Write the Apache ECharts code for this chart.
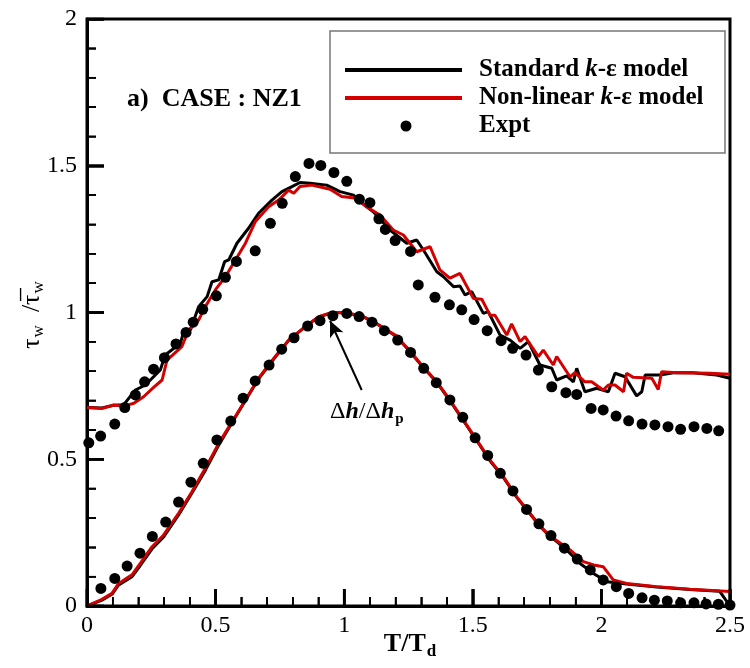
<!DOCTYPE html>
<html>
<head>
<meta charset="utf-8">
<script src="https://cdn.jsdelivr.net/npm/echarts@6/dist/echarts.min.js"></script>
<style>html,body{margin:0;padding:0;background:#fff}#c{width:750px;height:668px}</style>
</head>
<body>
<div id="c"></div>
<script>
// ---- data ----
var xMajorTicks = [0, 0.5, 1, 1.5, 2, 2.5];
var xMinorTicks = [0.1, 0.2, 0.3, 0.4, 0.6, 0.7, 0.8, 0.9, 1.1, 1.2, 1.3, 1.4, 1.6, 1.7, 1.8, 1.9, 2.1, 2.2, 2.3, 2.4];
var yMajorTicks = [0, 0.5, 1, 1.5, 2];
var yMinorTicks = [0.1, 0.2, 0.3, 0.4, 0.6, 0.7, 0.8, 0.9, 1.1, 1.2, 1.3, 1.4, 1.6, 1.7, 1.8, 1.9];

var stdUpper = [[0,0.676],[0.058,0.675],[0.104,0.684],[0.143,0.686],[0.188,0.736],[0.227,0.753],[0.285,0.804],[0.304,0.855],[0.363,0.895],[0.376,0.935],[0.402,0.94],[0.434,1.02],[0.467,1.054],[0.486,1.105],[0.512,1.111],[0.535,1.173],[0.551,1.179],[0.583,1.236],[0.628,1.287],[0.667,1.338],[0.719,1.383],[0.758,1.412],[0.797,1.429],[0.828,1.443],[0.867,1.44],[0.932,1.434],[0.984,1.412],[1.036,1.4],[1.061,1.378],[1.113,1.343],[1.178,1.281],[1.243,1.236],[1.282,1.247],[1.308,1.213],[1.36,1.139],[1.386,1.122],[1.425,1.088],[1.45,1.09],[1.47,1.06],[1.496,1.071],[1.541,0.997],[1.56,1.003],[1.606,0.923],[1.645,0.906],[1.684,0.878],[1.716,0.901],[1.761,0.821],[1.807,0.81],[1.826,0.77],[1.865,0.784],[1.891,0.764],[1.904,0.81],[1.936,0.73],[1.982,0.742],[2.027,0.73],[2.053,0.793],[2.092,0.781],[2.137,0.716],[2.157,0.73],[2.17,0.787],[2.228,0.787],[2.28,0.795],[2.357,0.795],[2.448,0.787],[2.5,0.776]];

var nonlinUpper = [[0,0.676],[0.058,0.673],[0.104,0.685],[0.143,0.681],[0.182,0.691],[0.22,0.713],[0.259,0.745],[0.292,0.77],[0.311,0.838],[0.369,0.884],[0.395,0.94],[0.434,0.974],[0.46,1.02],[0.499,1.077],[0.538,1.122],[0.577,1.179],[0.616,1.236],[0.654,1.309],[0.706,1.36],[0.745,1.383],[0.784,1.417],[0.804,1.406],[0.828,1.429],[0.874,1.434],[0.945,1.42],[0.99,1.395],[1.049,1.389],[1.087,1.36],[1.139,1.332],[1.191,1.281],[1.23,1.264],[1.282,1.207],[1.334,1.224],[1.372,1.145],[1.411,1.117],[1.45,1.133],[1.502,1.048],[1.535,1.045],[1.567,0.991],[1.586,0.991],[1.632,0.923],[1.651,0.961],[1.684,0.901],[1.703,0.918],[1.755,0.85],[1.774,0.872],[1.813,0.821],[1.826,0.85],[1.878,0.781],[1.897,0.795],[1.936,0.764],[1.962,0.764],[2.007,0.736],[2.027,0.753],[2.053,0.753],[2.086,0.73],[2.098,0.793],[2.124,0.779],[2.196,0.776],[2.221,0.738],[2.234,0.798],[2.293,0.795],[2.422,0.793],[2.5,0.79]];

var stdLower = [[0,0],[0.058,0.02],[0.097,0.04],[0.123,0.072],[0.175,0.1],[0.207,0.138],[0.253,0.195],[0.298,0.235],[0.356,0.31],[0.408,0.385],[0.46,0.462],[0.512,0.548],[0.564,0.625],[0.616,0.7],[0.667,0.774],[0.732,0.848],[0.784,0.905],[0.849,0.952],[0.901,0.985],[0.953,0.999],[0.984,1.0],[1.061,0.991],[1.113,0.969],[1.165,0.94],[1.2,0.92],[1.25,0.873],[1.3,0.82],[1.36,0.762],[1.411,0.7],[1.463,0.632],[1.515,0.564],[1.567,0.495],[1.619,0.438],[1.671,0.37],[1.722,0.314],[1.787,0.248],[1.865,0.191],[1.917,0.145],[1.969,0.111],[2.021,0.083],[2.059,0.079],[2.098,0.075],[2.215,0.065],[2.344,0.056],[2.46,0.05],[2.5,0.0]];

var nonlinLower = [[0,0.0],[0.058,0.023],[0.097,0.043],[0.123,0.077],[0.175,0.106],[0.207,0.145],[0.253,0.202],[0.298,0.242],[0.356,0.316],[0.408,0.389],[0.46,0.469],[0.512,0.554],[0.564,0.628],[0.616,0.702],[0.667,0.776],[0.732,0.85],[0.784,0.906],[0.849,0.952],[0.901,0.986],[0.953,1.0],[0.984,1.0],[1.061,0.991],[1.113,0.969],[1.165,0.94],[1.2,0.922],[1.25,0.875],[1.3,0.822],[1.36,0.764],[1.411,0.702],[1.463,0.634],[1.515,0.566],[1.567,0.497],[1.619,0.44],[1.671,0.372],[1.722,0.316],[1.761,0.27],[1.813,0.231],[1.878,0.191],[1.93,0.151],[1.97,0.14],[2.007,0.134],[2.046,0.089],[2.098,0.077],[2.215,0.066],[2.344,0.057],[2.5,0.049]];

var exptUpper = [[0.007,0.556],[0.053,0.579],[0.108,0.62],[0.147,0.676],[0.188,0.719],[0.224,0.764],[0.259,0.807],[0.301,0.846],[0.346,0.893],[0.385,0.932],[0.413,0.967],[0.45,1.011],[0.503,1.057],[0.538,1.12],[0.581,1.174],[0.654,1.21],[0.713,1.304],[0.759,1.372],[0.81,1.463],[0.863,1.508],[0.909,1.501],[0.96,1.477],[1.01,1.447],[1.059,1.386],[1.1,1.374],[1.135,1.319],[1.16,1.283],[1.198,1.245],[1.258,1.208],[1.288,1.094],[1.353,1.052],[1.409,1.026],[1.457,1.009],[1.505,0.976],[1.556,0.938],[1.61,0.904],[1.655,0.878],[1.707,0.855],[1.755,0.804],[1.807,0.747],[1.862,0.727],[1.904,0.721],[1.96,0.673],[2.007,0.668],[2.057,0.647],[2.106,0.631],[2.158,0.62],[2.208,0.617],[2.259,0.611],[2.308,0.602],[2.36,0.611],[2.41,0.605],[2.456,0.597]];

var exptLower = [[0.054,0.06],[0.108,0.094],[0.156,0.136],[0.206,0.18],[0.254,0.237],[0.306,0.286],[0.356,0.354],[0.404,0.422],[0.452,0.486],[0.505,0.566],[0.559,0.63],[0.607,0.708],[0.654,0.767],[0.708,0.821],[0.757,0.875],[0.805,0.914],[0.858,0.954],[0.906,0.972],[0.956,0.989],[1.01,0.997],[1.058,0.986],[1.108,0.967],[1.156,0.938],[1.208,0.906],[1.258,0.864],[1.309,0.81],[1.358,0.761],[1.411,0.702],[1.461,0.643],[1.509,0.573],[1.558,0.513],[1.607,0.452],[1.656,0.392],[1.709,0.329],[1.757,0.28],[1.804,0.24],[1.856,0.197],[1.906,0.16],[1.957,0.123],[2.007,0.089],[2.058,0.066],[2.106,0.043],[2.158,0.028],[2.206,0.02],[2.256,0.017],[2.308,0.011],[2.36,0.011],[2.407,0.007],[2.455,0.006],[2.5,0.003]];

var arrowFrom = [1.068, 0.736];
var arrowTo = [0.945, 0.972];

var legendNames = ['Standard k-ε model', 'Non-linear k-ε model', 'Expt'];
var RED = '#d40000';
var SERIF = "'Liberation Serif','Times New Roman',serif";

// tick lengths in axis units (about 17 px major, 9 px minor on this grid)
var TICK_X_MAJOR = 0.058, TICK_X_MINOR = 0.031;
var TICK_Y_MAJOR = 0.066, TICK_Y_MINOR = 0.035;

var chart = echarts.init(document.getElementById('c'));

function axisCommon(min, max, margin) {
  return {
    type: 'value', min: min, max: max, interval: 0.5,
    axisLine: {show: true, onZero: false, lineStyle: {color: '#000', width: 3}},
    axisTick: {show: true, inside: true, length: 17, lineStyle: {color: '#000', width: 2.5}},
    minorTick: {show: true, splitNumber: 5, length: 9, lineStyle: {color: '#000', width: 1.5}},
    splitLine: {show: false},
    axisLabel: {color: '#000', fontFamily: SERIF, fontSize: 24, margin: margin}
  };
}

function lineSeries(name, data, color, z) {
  return {
    name: name, type: 'line', data: data, showSymbol: false, symbol: 'none',
    lineStyle: {color: color, width: 3}, itemStyle: {color: color}, z: z
  };
}

function tickSeries(points, width) {
  return {
    name: 'tick', type: 'line', data: points, showSymbol: false, symbol: 'none', silent: true,
    lineStyle: {color: '#000', width: width}, z: 5
  };
}

// ticks first, then curves, then experimental points
var seriesList = [];
xMajorTicks.forEach(function (v) { seriesList.push(tickSeries([[v, 0], [v, TICK_X_MAJOR]], 2.5)); });
xMinorTicks.forEach(function (v) { seriesList.push(tickSeries([[v, 0], [v, TICK_X_MINOR]], 1.5)); });
yMajorTicks.forEach(function (v) { seriesList.push(tickSeries([[0, v], [TICK_Y_MAJOR, v]], 2.5)); });
yMinorTicks.forEach(function (v) { seriesList.push(tickSeries([[0, v], [TICK_Y_MINOR, v]], 1.5)); });
seriesList.push(lineSeries(legendNames[0], stdUpper, '#000', 2));
seriesList.push(lineSeries(legendNames[0], stdLower, '#000', 2));
seriesList.push(lineSeries(legendNames[1], nonlinUpper, RED, 3));
var lowerRedIndex = seriesList.length;
seriesList.push(lineSeries(legendNames[1], nonlinLower, RED, 3));
seriesList.push({name: legendNames[2], type: 'scatter', data: exptUpper, symbol: 'circle', symbolSize: 11,
  itemStyle: {color: '#000', opacity: 1}, z: 4});
seriesList.push({name: legendNames[2], type: 'scatter', data: exptLower, symbol: 'circle', symbolSize: 11,
  itemStyle: {color: '#000', opacity: 1}, z: 4});

var boldRich = {
  b: {fontFamily: SERIF, fontWeight: 'bold', fontSize: 25, color: '#000'},
  i: {fontFamily: SERIF, fontWeight: 'bold', fontStyle: 'italic', fontSize: 25, color: '#000'}
};

var baseGraphics = [
  {type: 'rect', shape: {x: 330, y: 31, width: 395, height: 122}, style: {fill: '#fff', stroke: '#777', lineWidth: 1.5}, z: 10},
  {type: 'line', shape: {x1: 345, y1: 70, x2: 462, y2: 70}, style: {stroke: '#000', lineWidth: 4}, z: 11},
  {type: 'line', shape: {x1: 345, y1: 98, x2: 462, y2: 98}, style: {stroke: RED, lineWidth: 4}, z: 11},
  {type: 'circle', shape: {cx: 406, cy: 126, r: 5.5}, style: {fill: '#000'}, z: 11},
  {type: 'text', x: 479, y: 70, z: 11, style: {text: '{b|Standard }{i|k}{b|-ε model}', verticalAlign: 'middle', rich: boldRich}},
  {type: 'text', x: 479, y: 98, z: 11, style: {text: '{b|Non-linear }{i|k}{b|-ε model}', verticalAlign: 'middle', rich: boldRich}},
  {type: 'text', x: 479, y: 126, z: 11, style: {text: 'Expt', verticalAlign: 'middle',
    font: "bold 25px 'Liberation Serif', serif", fill: '#000'}},
  {type: 'text', x: 127, y: 99, z: 11, style: {text: 'a)  CASE : NZ1', verticalAlign: 'middle',
    font: "bold 26px 'Liberation Serif', serif", fill: '#000'}},
  {type: 'text', x: 330, y: 412, z: 11, style: {text: '{r|Δ}{i|h}{r|/Δ}{i|h}{s|p}', verticalAlign: 'middle', rich: {
    r: {fontFamily: SERIF, fontSize: 24, color: '#000'},
    i: {fontFamily: SERIF, fontWeight: 'bold', fontStyle: 'italic', fontSize: 24, color: '#000'},
    s: {fontFamily: SERIF, fontWeight: 'bold', fontSize: 15, color: '#000', verticalAlign: 'bottom', padding: [14, 0, 0, 1]}}}},
  {type: 'text', x: 410, y: 644, z: 11, style: {text: '{b|T/T}{s|d}', align: 'center', verticalAlign: 'middle', rich: {
    b: {fontFamily: SERIF, fontWeight: 'bold', fontSize: 26, color: '#000'},
    s: {fontFamily: SERIF, fontWeight: 'bold', fontSize: 17, color: '#000', verticalAlign: 'bottom', padding: [16, 0, 0, 1]}}}},
  {type: 'text', x: 32, y: 315, rotation: Math.PI / 2, z: 11, style: {text: '{t|τ}{s|w}{t|  /}{t|τ\u0305}{s|w}', align: 'center', verticalAlign: 'middle', rich: {
    t: {fontFamily: SERIF, fontSize: 26, color: '#000'},
    s: {fontFamily: SERIF, fontSize: 17, color: '#000', verticalAlign: 'bottom', padding: [14, 0, 0, 1]}}}}
];

// stage 1: axes, ticks, curves, points
try {
  chart.setOption({
    animation: false,
    backgroundColor: '#fff',
    grid: {left: 87, right: 20, top: 19, bottom: 62, show: true, borderColor: '#000', borderWidth: 3, backgroundColor: 'transparent'},
    xAxis: axisCommon(0, 2.5, 8),
    yAxis: axisCommon(0, 2, 10),
    series: seriesList
  });
} catch (e) { console.error(e); }

// stage 2: texts, legend box, and fallback ticks placed through the chart's scales
try {
  var tickGraphics = [];
  var addX = function (v, len, w) {
    var p = chart.convertToPixel({gridIndex: 0}, [v, 0]);
    tickGraphics.push({type: 'line', z: 12, shape: {x1: p[0], y1: p[1], x2: p[0], y2: p[1] - len}, style: {stroke: '#000', lineWidth: w}});
  };
  var addY = function (v, len, w) {
    var p = chart.convertToPixel({gridIndex: 0}, [0, v]);
    tickGraphics.push({type: 'line', z: 12, shape: {x1: p[0], y1: p[1], x2: p[0] + len, y2: p[1]}, style: {stroke: '#000', lineWidth: w}});
  };
  try {
    xMajorTicks.forEach(function (v) { addX(v, 17, 2.5); });
    xMinorTicks.forEach(function (v) { addX(v, 9, 1.5); });
    yMajorTicks.forEach(function (v) { addY(v, 17, 2.5); });
    yMinorTicks.forEach(function (v) { addY(v, 9, 1.5); });
  } catch (e2) { tickGraphics = []; }
  chart.setOption({graphic: baseGraphics.concat(tickGraphics)});
} catch (e) { console.error(e); }

// stage 3: annotation arrow
try {
  var upd = [];
  for (var i = 0; i < seriesList.length; i++) upd.push({});
  upd[lowerRedIndex] = {markLine: {
    silent: true, animation: false,
    symbol: ['none', 'arrow'], symbolSize: [11, 16],
    label: {show: false},
    lineStyle: {color: '#000', width: 2, type: 'solid'},
    data: [[{coord: arrowFrom}, {coord: arrowTo}]]
  }};
  chart.setOption({series: upd});
} catch (e) { console.error(e); }
</script>
</body>
</html>
